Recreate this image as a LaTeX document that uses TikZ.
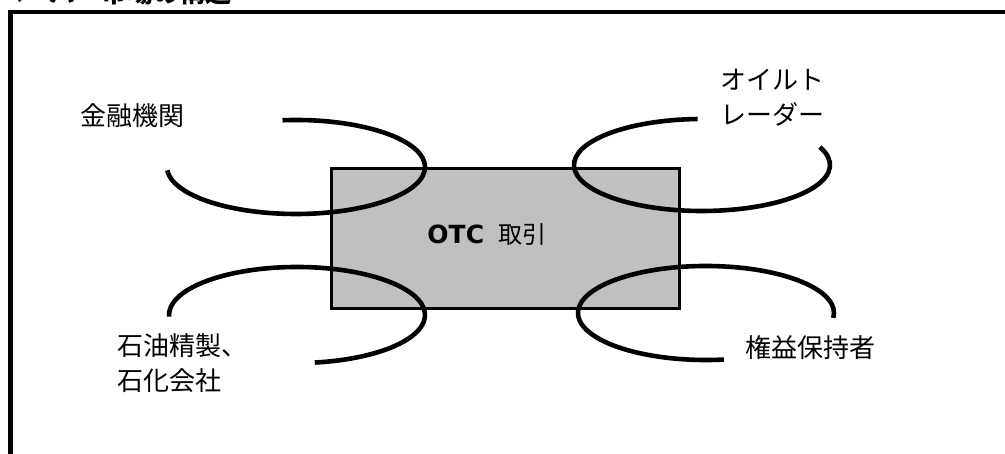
\documentclass[tikz,border=0pt]{standalone}
\usepackage{fontspec}
\usepackage{tikz}
\usetikzlibrary{positioning}
\newfontfamily\jpfont{Noto Sans CJK JP}
\newfontfamily\otcfont{DejaVu Sans}
\definecolor{boxgray}{HTML}{C0C0C0}

\begin{document}
\begin{tikzpicture}[x=1pt, y=1pt,
  ring/.style={line width=4.6pt},
  party/.style={font=\jpfont\fontsize{26}{35}\selectfont, inner sep=0pt, align=left}]
  \useasboundingbox (0,0) rectangle (1005,454);
  \clip (0,0) rectangle (1005,454);

  % title, cut off at the top edge
  \node[anchor=base west, inner sep=0pt, font=\jpfont\bfseries\fontsize{26}{30}\selectfont] (title) at (-2,451) {ペーパー市場の構造};
  \draw[line width=4.3pt] (10.5,441.7) rectangle (1040,-40);

  % market in the middle
  \node[draw, line width=3pt, fill=boxgray, minimum width=348pt, minimum height=140pt] (otc) at (505,215) {};
  \node[inner sep=0pt, font=\jpfont\fontsize{24}{28}\selectfont] (deal) at (487,219) {{\otcfont\bfseries\fontsize{25}{28}\selectfont OTC}\hspace{0.6em}取引};

  % the four players
  \coordinate (tl) at (296,287);
  \coordinate (tr) at (702,289);
  \coordinate (bl) at (297,139);
  \coordinate (br) at (706,141);
  \draw[ring] (tl) ++(96:129pt and 47pt) arc[start angle=96, end angle=-176, x radius=129pt, y radius=47pt];
  \draw[ring] (tr) ++(92:128pt and 46pt) arc[start angle=92, end angle=383, x radius=128pt, y radius=46pt];
  \draw[ring] (bl) ++(182:128pt and 48pt) arc[start angle=182, end angle=-82, x radius=128pt, y radius=48pt];
  \draw[ring] (br) ++(-6:128pt and 47pt) arc[start angle=-6, end angle=278, x radius=128pt, y radius=47pt];

  \node[party, anchor=west] (bank) at (80,338) {金融機関};
  \node[party, anchor=west] (trader) at (720,356.5) {オイルト\\レーダー};
  \node[party, anchor=west] (refiner) at (117,90.5) {石油精製、\\石化会社};
  \node[party, anchor=west] (owner) at (745,106) {権益保持者};
\end{tikzpicture}
\end{document}
